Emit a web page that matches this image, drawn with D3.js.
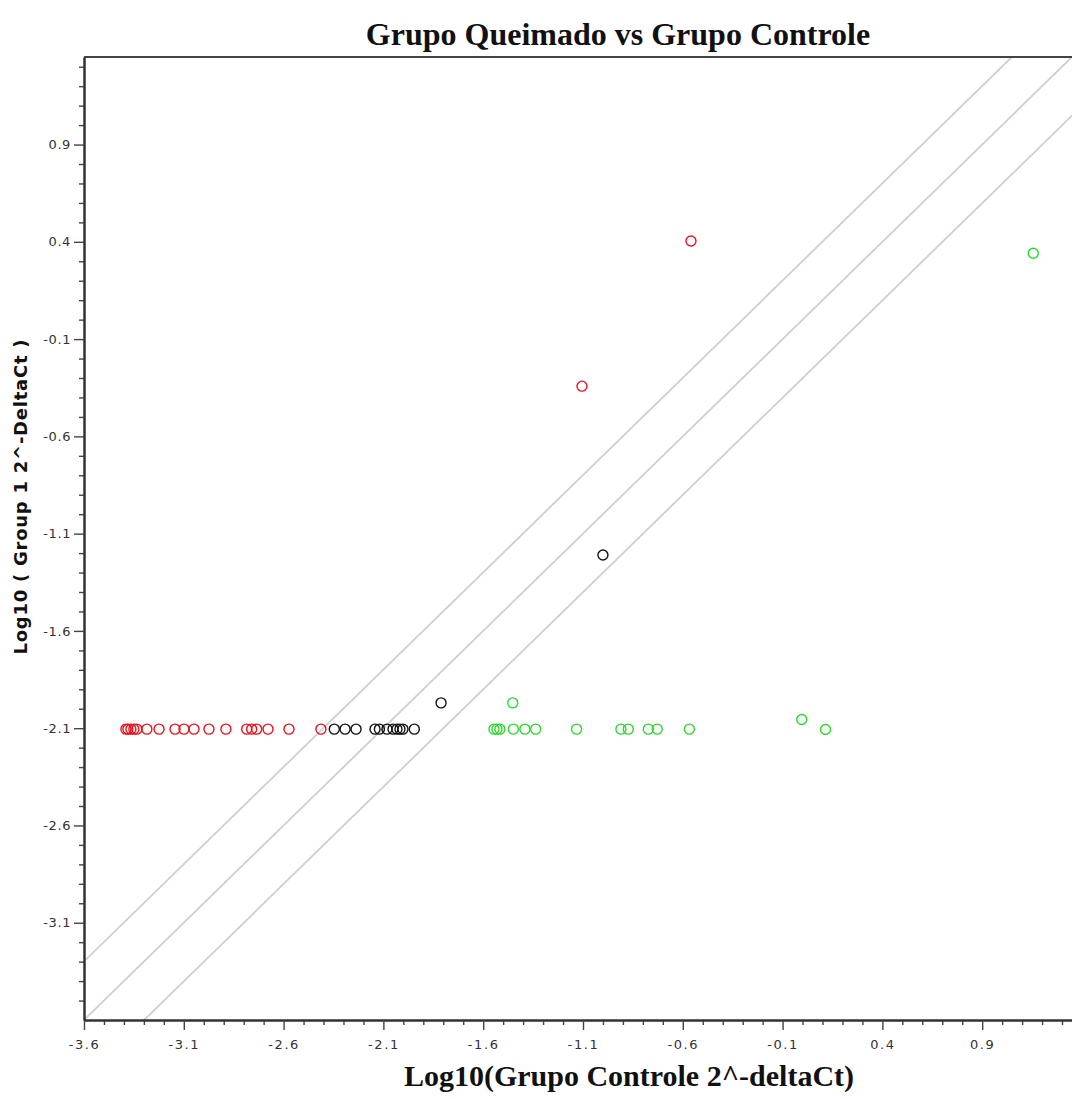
<!DOCTYPE html>
<html><head><meta charset="utf-8">
<script src="https://cdn.jsdelivr.net/npm/d3@7"></script>
<style>body{margin:0;background:#fff}</style>
</head><body>
<svg id="c" width="1072" height="1099"></svg>
<script>
const title = "Grupo Queimado vs Grupo Controle";
const xLabel = "Log10(Grupo Controle 2^-deltaCt)";
const yLabel = "Log10 ( Group 1 2^-DeltaCt )";
const xTicks = [-3.6, -3.1, -2.6, -2.1, -1.6, -1.1, -0.6, -0.1, 0.4, 0.9];
const yTicks = [-3.1, -2.6, -2.1, -1.6, -1.1, -0.6, -0.1, 0.4, 0.9];
const foldOffsets = [0.301, 0, -0.301];

// [log10 control, log10 group1]
const redPoints = [
  [-3.39,-2.105],[-3.38,-2.105],[-3.365,-2.105],[-3.35,-2.105],[-3.335,-2.105],
  [-3.285,-2.105],[-3.224,-2.105],[-3.144,-2.105],[-3.099,-2.105],[-3.049,-2.105],
  [-2.974,-2.105],[-2.889,-2.105],[-2.785,-2.105],[-2.76,-2.105],[-2.735,-2.105],
  [-2.678,-2.105],[-2.573,-2.105],[-2.413,-2.105],
  [-0.559,0.404],[-1.105,-0.342]
];
const blackPoints = [
  [-2.346,-2.105],[-2.292,-2.105],[-2.237,-2.105],[-2.142,-2.105],[-2.12,-2.105],
  [-2.082,-2.105],[-2.052,-2.105],[-2.032,-2.105],[-2.017,-2.105],[-2.002,-2.105],
  [-1.945,-2.105],[-1.811,-1.97],[-1.0,-1.21]
];
const greenPoints = [
  [-1.546,-2.105],[-1.531,-2.105],[-1.516,-2.105],[-1.449,-2.105],[-1.391,-2.105],
  [-1.337,-2.105],[-1.132,-2.105],[-0.910,-2.105],[-0.873,-2.105],[-0.773,-2.105],
  [-0.728,-2.105],[-0.567,-2.105],[-1.452,-1.97],[-0.004,-2.055],[0.115,-2.107],
  [1.156,0.341]
];

const L = 84, R = 1072, T = 57, B = 1020;
const x = d3.scaleLinear([-3.6, 1.35], [L, R]);
const y = d3.scaleLinear([-3.6, 1.35], [B, T]);
const svg = d3.select("#c");

svg.append("clipPath").attr("id","pc").append("rect")
  .attr("x",L).attr("y",T).attr("width",R-L).attr("height",B-T);

// diagonal fold lines
const g = svg.append("g").attr("clip-path","url(#pc)");
foldOffsets.forEach(o => {
  g.append("line")
    .attr("x1", x(-3.6)).attr("y1", y(-3.6 + o))
    .attr("x2", x(1.35)).attr("y2", y(1.35 + o))
    .attr("stroke","#cfcfcf").attr("stroke-width",1.8);
});

// minor ticks every 0.1 (excluding majors)
const minor = d3.range(-35, 14).map(v => v/10)
  .filter(v => { const k = Math.round((v + 3.6) * 10); return k % 5 !== 0; });
const fmt = v => v.toFixed(1);

const xAxis = d3.axisBottom(x).tickValues(xTicks).tickFormat(fmt).tickSize(10).tickSizeOuter(0);
const xMinor = d3.axisBottom(x).tickValues(minor).tickFormat("").tickSize(5).tickSizeOuter(0);
const yAxis = d3.axisLeft(y).tickValues(yTicks).tickFormat(fmt).tickSize(10).tickSizeOuter(0);
const yMinor = d3.axisLeft(y).tickValues(minor).tickFormat("").tickSize(5).tickSizeOuter(0);

const gx = svg.append("g").attr("transform",`translate(0,${B})`).call(xMinor);
const gx2 = svg.append("g").attr("transform",`translate(0,${B})`).call(xAxis);
const gy = svg.append("g").attr("transform",`translate(${L},0)`).call(yMinor);
const gy2 = svg.append("g").attr("transform",`translate(${L},0)`).call(yAxis);
[gx,gx2,gy,gy2].forEach(a => {
  a.attr("font-size",null).attr("font-family",null);
  a.selectAll(".domain").attr("stroke","#333").attr("stroke-width",2);
  a.selectAll(".tick line").attr("stroke","#444").attr("stroke-width",1.4);
  a.selectAll("text").style("font-family","DejaVu Sans, Verdana, sans-serif")
    .style("font-size","13px").attr("fill","#333");
});
gx2.selectAll("text").attr("y",20).attr("dy","0.71em").attr("letter-spacing","1.6px");
gy2.selectAll("text").attr("x",-13).attr("letter-spacing","0.6px");

// top border
svg.append("line").attr("x1",L).attr("x2",R).attr("y1",T).attr("y2",T)
  .attr("stroke","#444").attr("stroke-width",2);

// points
const pts = svg.append("g");
[[redPoints,"#e8141e"],[blackPoints,"#111"],[greenPoints,"#2bd92b"]].forEach(([data,col]) => {
  pts.selectAll(null).data(data).enter().append("circle")
    .attr("cx", d => x(d[0])).attr("cy", d => y(d[1])).attr("r",5)
    .attr("fill","none").attr("stroke",col).attr("stroke-width",1.4);
});

// titles
svg.append("text").attr("x",618).attr("y",45).attr("text-anchor","middle")
  .attr("font-family","Liberation Serif, Times New Roman, serif").attr("font-weight","bold")
  .attr("font-size",32).attr("fill","#111").text(title);
svg.append("text").attr("x",629).attr("y",1086).attr("text-anchor","middle")
  .attr("font-family","Liberation Serif, Times New Roman, serif").attr("font-weight","bold")
  .attr("font-size",30).attr("fill","#111").text(xLabel);
svg.append("text").attr("transform","translate(27,497) rotate(-90)").attr("text-anchor","middle")
  .attr("font-family","DejaVu Sans, Verdana, sans-serif").attr("font-weight","bold")
  .attr("font-size",18).attr("textLength",315).attr("lengthAdjust","spacing")
  .attr("fill","#111").text(yLabel);
</script>
</body></html>
